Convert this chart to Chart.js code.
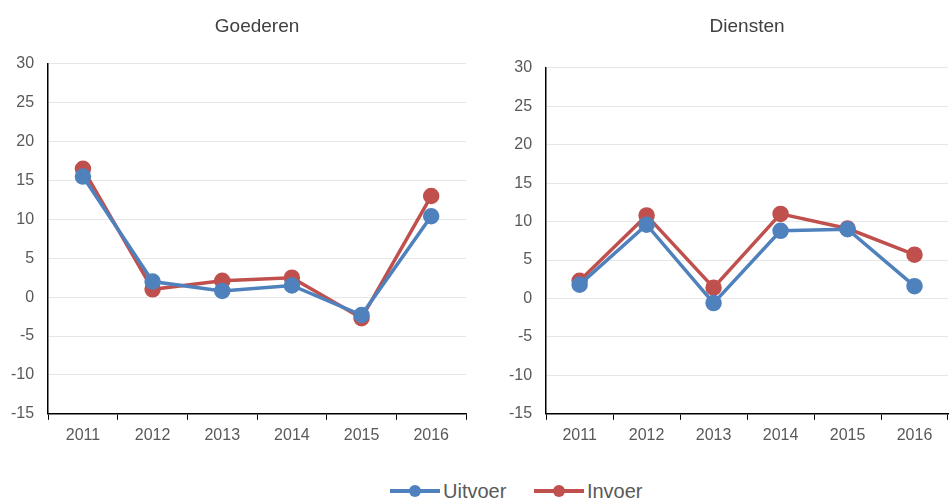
<!DOCTYPE html>
<html>
<head>
<meta charset="utf-8">
<script src="https://cdn.jsdelivr.net/npm/chart.js@4.4.0/dist/chart.umd.min.js"></script>
<style>
	html, body { margin: 0; background: #fff; overflow: hidden; font-family: "Liberation Sans", Arial, sans-serif; }
	#wrap { position: relative; width: 950px; height: 500px; overflow: hidden; }
	.box { position: absolute; top: 0; height: 451px; }
	#left { left: -13px; width: 489px; }
	#right { left: 480px; width: 478px; }
	#legend { position: absolute; left: 390px; top: 474px; white-space: nowrap; font-size: 20px; line-height: 24px; color: #595959; }
	.item { display: inline-flex; align-items: center; }
	.item + .item { margin-left: 22px; }
	.mark { position: relative; width: 50px; height: 4px; margin-right: 3px; }
	.mark span { position: absolute; left: 19px; top: -4px; width: 12px; height: 12px; border-radius: 50%; }
</style>
</head>
<body>
<div id="wrap">
	<div class="box" id="left"><canvas id="goederen"></canvas></div>
	<div class="box" id="right"><canvas id="diensten"></canvas></div>
	<div id="legend">
		<span class="item"><span class="mark" style="background:#4F81BD"><span style="background:#4F81BD"></span></span>Uitvoer</span>
		<span class="item"><span class="mark" style="background:#C0504D"><span style="background:#C0504D"></span></span>Invoer</span>
	</div>
</div>
<script>
const years = ['2011', '2012', '2013', '2014', '2015', '2016'];

const goederenUitvoer = [15.5, 2.0, 0.8, 1.5, -2.3, 10.4];
const goederenInvoer = [16.5, 1.0, 2.1, 2.5, -2.7, 13.0];

const dienstenUitvoer = [1.8, 9.6, -0.6, 8.8, 9.0, 1.6];
const dienstenInvoer = [2.3, 10.8, 1.4, 11.0, 9.1, 5.7];

const blue = '#4F81BD';
const red = '#C0504D';
const textColor = '#595959';

function lineSet(label, data, color) {
	return {
		label: label,
		data: data,
		borderColor: color,
		backgroundColor: color,
		borderWidth: 3.5,
		pointRadius: 6.5,
		pointHoverRadius: 6.5,
		tension: 0
	};
}

function makeChart(id, title, uitvoer, invoer, padLeft, titleGap) {
	const config = {
		type: 'line',
		data: {
			labels: years,
			datasets: [lineSet('Uitvoer', uitvoer, blue), lineSet('Invoer', invoer, red)]
		},
		options: {
			responsive: true,
			maintainAspectRatio: false,
			animation: false,
			layout: {padding: {left: padLeft, right: 0, top: 4}},
			plugins: {
				legend: {display: false},
				tooltip: {enabled: false},
				title: {
					display: true,
					fullSize: false,
					text: title,
					color: '#404040',
					font: {size: 19, family: '"Liberation Sans", Arial', weight: 'normal'},
					padding: {top: 11, bottom: titleGap}
				}
			},
			scales: {
				x: {
					offset: true,
					grid: {offset: true, drawOnChartArea: false, drawTicks: true, tickLength: 6, color: '#000'},
					border: {color: '#000', width: 1.5},
					ticks: {color: textColor, font: {size: 16, family: '"Liberation Sans", Arial'}, padding: 6}
				},
				y: {
					min: -15,
					max: 30,
					ticks: {stepSize: 5, color: textColor, font: {size: 16, family: '"Liberation Sans", Arial'}, padding: 14},
					grid: {color: '#e6e6e6', drawTicks: false},
					border: {color: '#000', width: 1.5}
				}
			}
		}
	};
	return new Chart(document.getElementById(id), config);
}

makeChart('goederen', 'Goederen', goederenUitvoer, goederenInvoer, 10, 26);
makeChart('diensten', 'Diensten', dienstenUitvoer, dienstenInvoer, 15, 30);
</script>
</body>
</html>
